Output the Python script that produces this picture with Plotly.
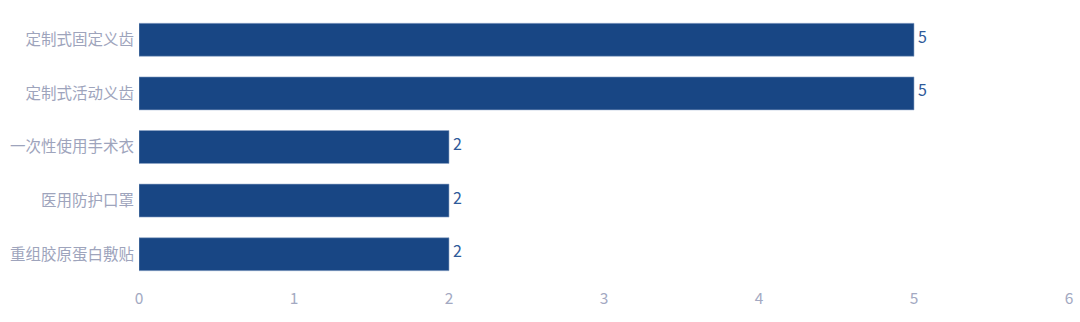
import plotly.graph_objects as go

categories = ["定制式固定义齿", "定制式活动义齿", "一次性使用手术衣", "医用防护口罩", "重组胶原蛋白敷贴"]
values = [5, 5, 2, 2, 2]
x_ticks = [0, 1, 2, 3, 4, 5, 6]

fig = go.Figure(go.Bar(
    y=categories,
    x=values,
    orientation="h",
    marker=dict(color="#184684", line=dict(color="#8fa6c8", width=0.6)),
    showlegend=False,
    hoverinfo="x+y",
))

for cat, v in zip(categories, values):
    fig.add_annotation(
        x=v, y=cat, text=str(v), showarrow=False,
        xanchor="left", yanchor="middle", xshift=2, yshift=4,
        font=dict(color="#2f5a9a", size=16, family="Noto Sans CJK SC"),
    )

fig.update_layout(
    width=1080, height=322,
    margin=dict(l=139, r=11, t=13, b=41),
    paper_bgcolor="white", plot_bgcolor="white",
    bargap=0.385,
    showlegend=False,
    font=dict(family="Noto Sans CJK SC", size=15.5, color="#9ea4bc"),
    xaxis=dict(range=[0, 6], tickvals=x_ticks, showgrid=False, zeroline=False,
               showline=False, ticks="outside", ticklen=3, tickcolor="rgba(0,0,0,0)",
               automargin=False,
               tickfont=dict(size=15.5, color="#a3a9c2")),
    yaxis=dict(autorange="reversed", showgrid=False, showline=False,
               ticks="outside", ticklen=1, tickcolor="rgba(0,0,0,0)",
               automargin=False,
               tickfont=dict(size=15.5, color="#9ea4bc")),
)

fig.write_html("out.html")
